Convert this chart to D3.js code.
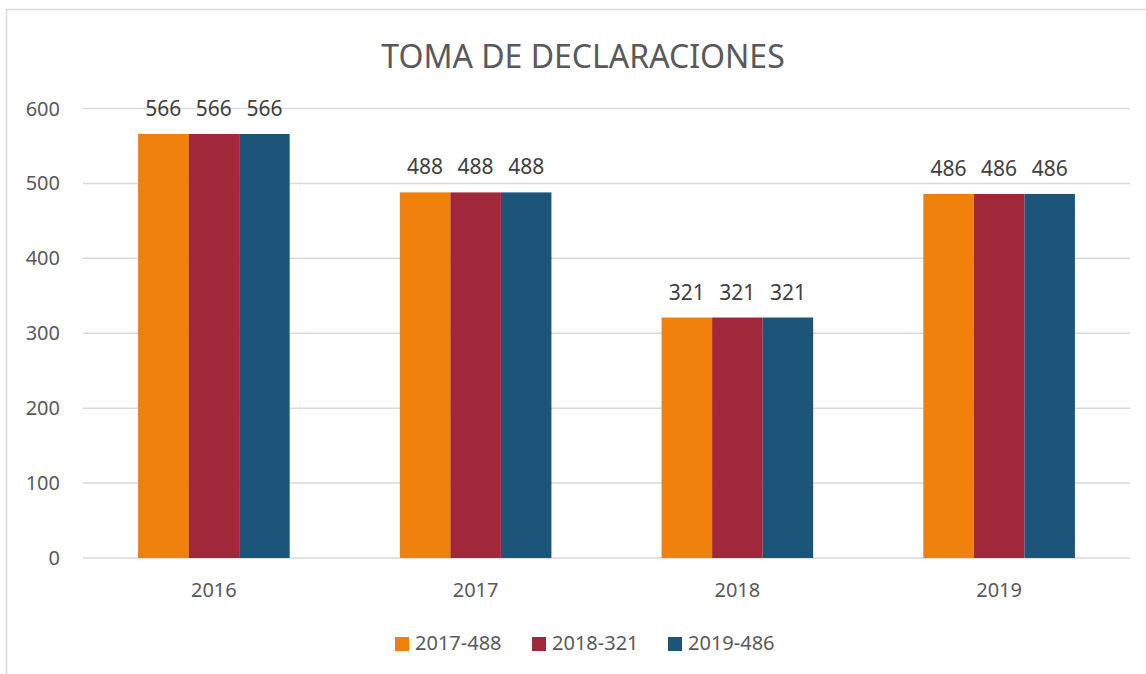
<!DOCTYPE html>
<html>
<meta charset="utf-8">
<head>
    <title>Toma de declaraciones</title>
</head>
<style>
    body { margin: 0; background: #fff; }
    text { font-family: "Noto Sans", "Open Sans", sans-serif; fill: #595959; }
</style>
<script src="https://d3js.org/d3.v7.min.js"></script>
<body>
<div id="chart"></div>
<script>

// data
var years = ["2016", "2017", "2018", "2019"]
var seriesNames = ["2017-488", "2018-321", "2019-486"]
var seriesColors = ["#ef800b", "#a0283a", "#1c5577"]
var values = [
  [566, 566, 566],
  [488, 488, 488],
  [321, 321, 321],
  [486, 486, 486]
]
var yTicks = [0, 100, 200, 300, 400, 500, 600]

var W = 1146, H = 674
var margin = {top: 108.5, left: 83, right: 16, bottom: 116}

var svg = d3.select("#chart")
  .append("svg")
  .attr("width", W)
  .attr("height", H)

// chart frame
svg.append("rect")
  .attr("x", 6.5).attr("y", 9.5)
  .attr("width", W + 20).attr("height", H + 20)
  .style("fill", "none")
  .style("stroke", "#d9d9d9")
  .style("stroke-width", 1.5)

var x = d3.scaleBand()
  .domain(years)
  .range([margin.left, W - margin.right])

var x1 = d3.scaleBand()
  .domain(seriesNames)
  .range([0, x.bandwidth()])
  .paddingInner(0)
  .paddingOuter(1.09)

var y = d3.scaleLinear()
  .domain([0, 600])
  .range([H - margin.bottom, margin.top])

// gridlines
svg.selectAll("grid")
  .data(yTicks).enter()
  .append("line")
  .attr("x1", margin.left).attr("x2", W - margin.right)
  .attr("y1", function(d) { return y(d) }).attr("y2", function(d) { return y(d) })
  .style("stroke", "#d9d9d9")
  .style("stroke-width", 1.5)

// y labels
svg.selectAll("ylab")
  .data(yTicks).enter()
  .append("text")
  .attr("x", 60)
  .attr("y", function(d) { return y(d) + 7 })
  .style("text-anchor", "end")
  .style("font-size", "20px")
  .text(function(d) { return d })

// bars
var groups = svg.selectAll("grp")
  .data(years).enter()
  .append("g")
  .attr("transform", function(d) { return "translate(" + x(d) + ",0)" })

groups.selectAll("rect")
  .data(function(d, i) { return values[i].map(function(v, j) { return {name: seriesNames[j], v: v, c: seriesColors[j]} }) })
  .enter().append("rect")
  .attr("x", function(d) { return x1(d.name) })
  .attr("width", x1.bandwidth())
  .attr("y", function(d) { return y(d.v) })
  .attr("height", function(d) { return y(0) - y(d.v) })
  .style("fill", function(d) { return d.c })

groups.selectAll("vlab")
  .data(function(d, i) { return values[i].map(function(v, j) { return {name: seriesNames[j], v: v} }) })
  .enter().append("text")
  .attr("x", function(d) { return x1(d.name) + x1.bandwidth() / 2 })
  .attr("y", function(d) { return y(d.v) - 18 })
  .style("text-anchor", "middle")
  .style("font-size", "21px")
  .style("fill", "#404040")
  .text(function(d) { return d.v })

// x labels
svg.selectAll("xlab")
  .data(years).enter()
  .append("text")
  .attr("x", function(d) { return x(d) + x.bandwidth() / 2 })
  .attr("y", 597)
  .style("text-anchor", "middle")
  .style("font-size", "20px")
  .text(function(d) { return d })

// title
svg.append("text")
  .attr("x", 583)
  .attr("y", 68)
  .style("text-anchor", "middle")
  .style("font-size", "32px")
  .text("TOMA DE DECLARACIONES")

// legend
var legendX = [395, 532, 668]
var legend = svg.selectAll("leg")
  .data(seriesNames).enter()
  .append("g")
  .attr("transform", function(d, i) { return "translate(" + legendX[i] + ",637)" })
legend.append("rect")
  .attr("width", 14).attr("height", 14)
  .style("fill", function(d, i) { return seriesColors[i] })
legend.append("text")
  .attr("x", 20).attr("y", 13)
  .style("font-size", "20px")
  .text(function(d) { return d })

</script>
</body>
</html>
